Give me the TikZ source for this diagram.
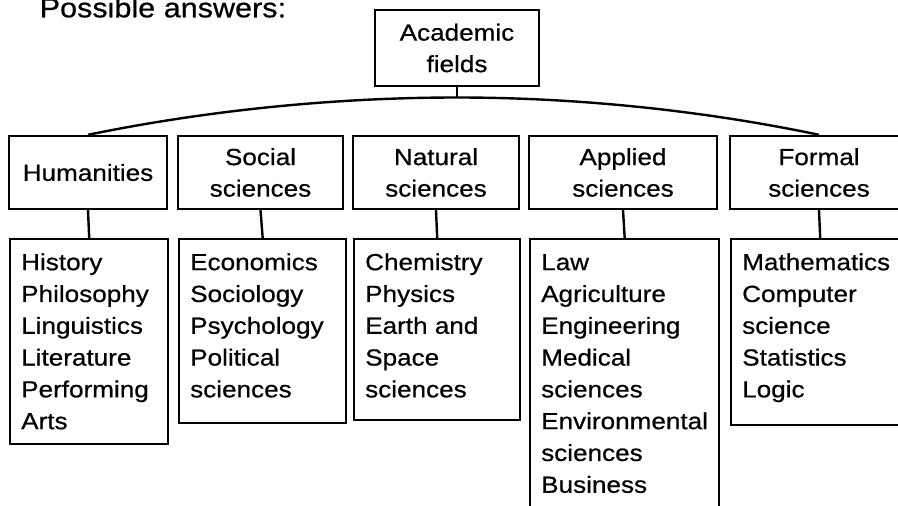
\documentclass[tikz,border=0pt]{standalone}
\usepackage{fontspec}
\setmainfont{Liberation Sans}[FakeStretch=1.12, FakeBold=0.6]
\newcommand{\fieldlist}[3]{\parbox[t][#2][t]{#1}{\strut #3}}
\begin{document}
\begin{tikzpicture}[x=1pt,y=-1pt,
  box/.style={draw, line width=2.4pt, inner sep=0pt},
  headbox/.style={box, align=center, minimum height=73pt, font=\fontsize{23.3}{31.5}\selectfont},
  listbox/.style={box, anchor=north west, inner xsep=11pt, inner ysep=8.7pt, font=\fontsize{23.3}{31.8}\selectfont},
  conn/.style={line width=2.4pt}]
\path[use as bounding box, clip] (0,0) rectangle (898,506);
\node[anchor=base west, inner sep=0pt, font=\fontsize{27.3}{32}\selectfont] (title) at (39.5,17.3) {Possible answers:};
\node[headbox, minimum width=164pt, minimum height=76pt] (acad) at (457,48) {Academic\\fields};
\node[headbox, minimum width=158pt] (hum) at (88,172.5) {Humanities};
\node[headbox, minimum width=165pt] (soc) at (260.5,172.5) {Social\\sciences};
\node[headbox, minimum width=166pt] (nat) at (436,172.5) {Natural\\sciences};
\node[headbox, minimum width=188pt] (app) at (623,172.5) {Applied\\sciences};
\node[headbox, minimum width=178pt] (form) at (819,172.5) {Formal\\sciences};
\coordinate (apex) at (457,97.5);
\node[listbox] (humlist) at (9,238) {\fieldlist{136pt}{187.6pt}{History\\Philosophy\\Linguistics\\Literature\\Performing\\Arts}};
\node[listbox] (soclist) at (178,238) {\fieldlist{145pt}{166.6pt}{Economics\\Sociology\\Psychology\\Political\\sciences}};
\node[listbox] (natlist) at (353,238) {\fieldlist{144pt}{163.6pt}{Chemistry\\Physics\\Earth and\\Space\\sciences}};
\node[listbox] (applist) at (529,238) {\fieldlist{167pt}{282.6pt}{Law\\Agriculture\\Engineering\\Medical\\sciences\\Environmental\\sciences\\Business}};
\node[listbox] (formlist) at (730,238) {\fieldlist{156pt}{168.6pt}{Mathematics\\Computer\\science\\Statistics\\Logic}};
\draw[conn] (acad.south) -- (apex);
\draw[conn] (hum.north) parabola bend (apex) (form.north);
\foreach \a/\b in {hum/humlist, soc/soclist, nat/natlist, app/applist, form/formlist}
  \draw[conn] (\a.south) -- (\b.north);
\end{tikzpicture}
\end{document}
